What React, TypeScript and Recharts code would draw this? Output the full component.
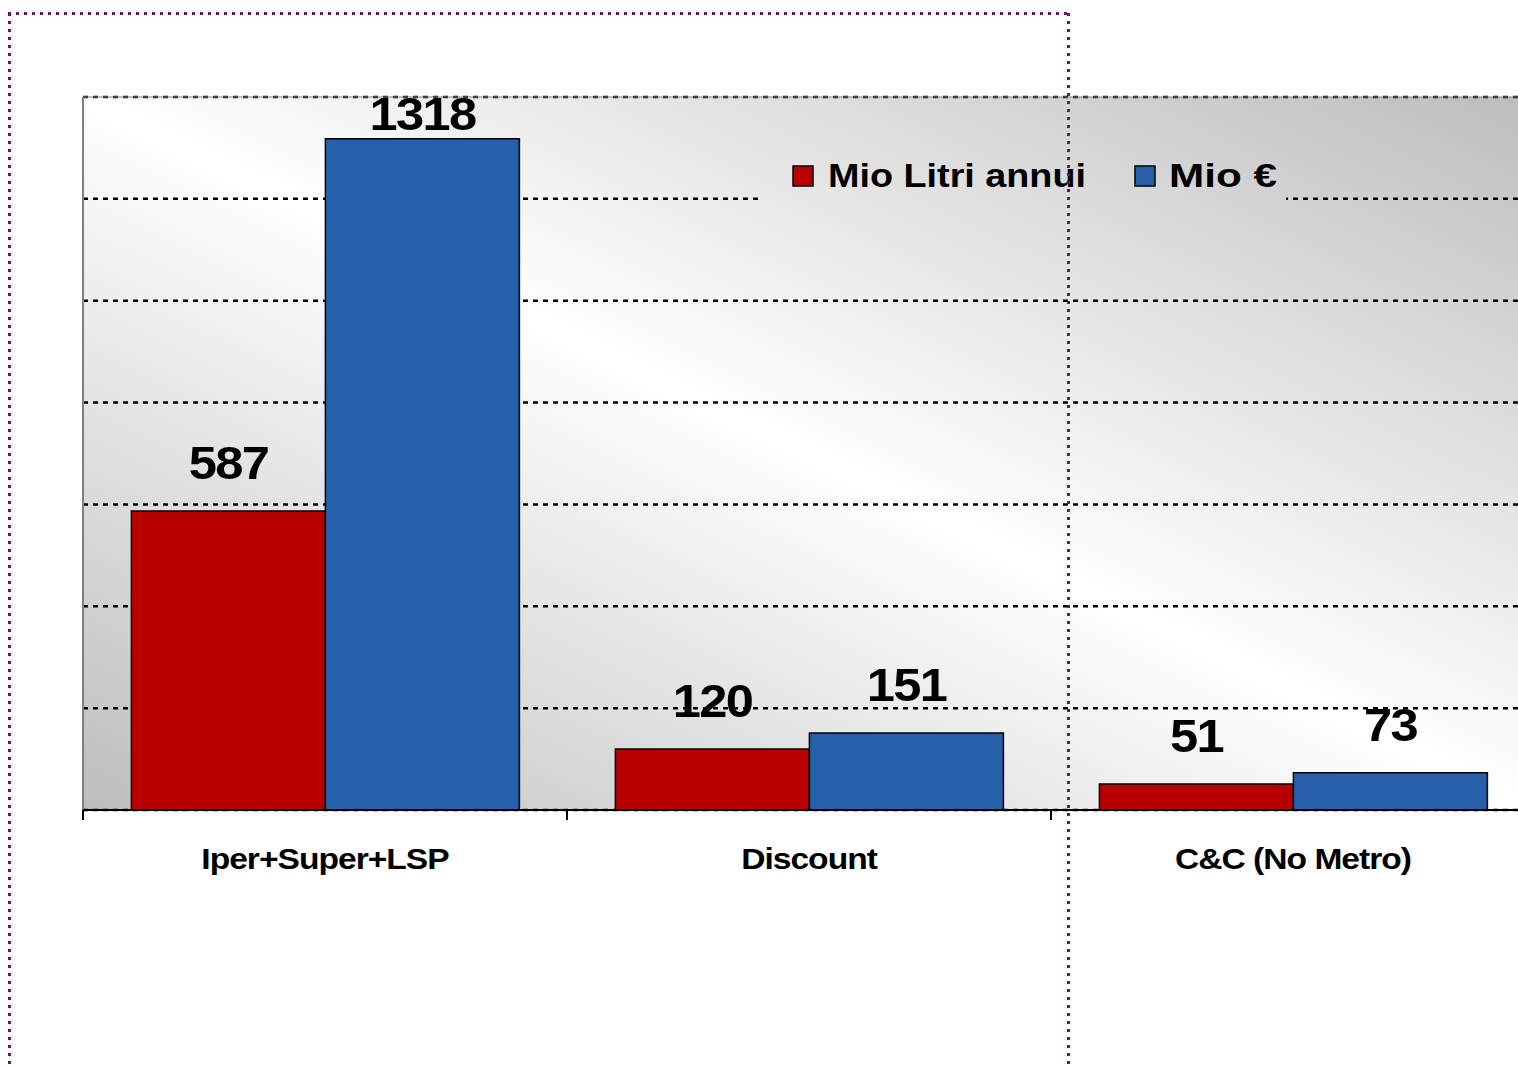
import { BarChart, Bar, XAxis, YAxis, CartesianGrid, Legend, LabelList, ReferenceLine } from 'recharts'

const categories = ['Iper+Super+LSP', 'Discount', 'C&C (No Metro)']
const litri = [587, 120, 51]
const euro = [1318, 151, 73]
const seriesNames = ['Mio Litri annui', 'Mio €']
const yTicks = [0, 200, 400, 600, 800, 1000, 1200, 1400]

const data = categories.map((name, i) => ({ name, litri: litri[i], euro: euro[i] }))

const RED = '#b80000'
const BLUE = '#2660aa'
const FONT = '"Liberation Sans", Arial, Helvetica, sans-serif'

// chart box (wider than the page, the right end is cut off like in the original)
const W = 1560
const H = 1068
const YW = 1 // y axis width
const XH = 1 // x axis height
const M = { top: 97, left: 83 - YW, right: 25, bottom: 258 - XH }
const PL = 83
const PT = 97
const PR = W - M.right
const PB = 810
const BAND = (PR - PL) / categories.length

// diagonal gradient: grey corners bottom-left / top-right, white band along the other diagonal
const gcx = (PL + PR) / 2
const gcy = (PT + PB) / 2
const dlen = Math.hypot(PR - PL, PB - PT)
const ux = (PB - PT) / dlen
const uy = -(PR - PL) / dlen
const half = Math.abs((PL - gcx) * ux + (PB - gcy) * uy)
const G = { x1: gcx - half * ux, y1: gcy - half * uy, x2: gcx + half * ux, y2: gcy + half * uy }

function BgGradient({ id, dx = 0, dy = 0 }: { id: string; dx?: number; dy?: number }) {
  return (
    <linearGradient
      id={id}
      gradientUnits="userSpaceOnUse"
      x1={G.x1 - dx}
      y1={G.y1 - dy}
      x2={G.x2 - dx}
      y2={G.y2 - dy}
    >
      <stop offset="0" stopColor="#bdbdbd" />
      <stop offset="0.5" stopColor="#ffffff" />
      <stop offset="1" stopColor="#bdbdbd" />
    </linearGradient>
  )
}

function ValueLabel(props: any) {
  const { x, y, width, value } = props
  const cx = Number(x) + Number(width) / 2
  // keep the label inside the plot area (like the 1318 one)
  const base = Math.max(Number(y) - 32, PT + 33)
  return (
    <text
      transform={`translate(${cx},${base}) scale(1.1,1)`}
      textAnchor="middle"
      fontFamily={FONT}
      fontWeight="bold"
      fontSize={46}
      letterSpacing={-1.5}
      fill="#000"
    >
      {value}
    </text>
  )
}

// category label + tick mark on the left edge of each category (Excel style)
function CatTick(props: any) {
  const { x, y, payload } = props
  const edge = x - BAND / 2
  return (
    <g>
      <line x1={edge} y1={y} x2={edge} y2={y + 10} stroke="#000" strokeWidth={2} />
      <text
        transform={`translate(${x},869) scale(1.12,1)`}
        textAnchor="middle"
        fontFamily={FONT}
        fontWeight="bold"
        fontSize={30}
        letterSpacing={-0.9}
        fill="#000"
      >
        {payload.value}
      </text>
    </g>
  )
}

const LG = { left: 760, top: 148, width: 530, height: 60 }

function LegendBox(props: any) {
  const payload = props.payload ?? []
  const pos = [
    { sw: 33, tx: 68, tw: 258 },
    { sw: 375, tx: 409, tw: 108 },
  ]
  return (
    <svg width={LG.width} height={LG.height} style={{ display: 'block' }}>
      <defs>
        <BgGradient id="bgLegend" dx={LG.left} dy={LG.top} />
      </defs>
      <rect x={2} y={2} width={524} height={56} fill="url(#bgLegend)" />
      {payload.map((p: any, i: number) => (
        <g key={p.value}>
          <rect x={pos[i].sw} y={18} width={20} height={20} fill={p.color} stroke="#000" strokeWidth={1.5} />
          <text
            x={pos[i].tx}
            y={39}
            textLength={pos[i].tw}
            lengthAdjust="spacingAndGlyphs"
            fontFamily={FONT}
            fontWeight="bold"
            fontSize={33}
            fill="#000"
          >
            {p.value}
          </text>
        </g>
      ))}
    </svg>
  )
}

export default function App() {
  return (
    <div
      style={{
        position: 'absolute',
        left: 0,
        top: 0,
        width: 1518,
        height: 1068,
        overflow: 'hidden',
        background: '#fff',
      }}
    >
      <svg width={0} height={0} style={{ position: 'absolute' }}>
        <defs>
          <BgGradient id="bgPlot" />
        </defs>
      </svg>
      <BarChart width={W} height={H} data={data} margin={M} barCategoryGap="10%" barGap={0}>
        <CartesianGrid
          vertical={false}
          horizontalValues={yTicks}
          stroke="#000"
          strokeWidth={2.5}
          strokeDasharray="5 5"
          fill="url(#bgPlot)"
          fillOpacity={1}
        />
        <ReferenceLine y={1400} stroke="#808080" strokeWidth={1} />
        <YAxis
          domain={[0, 1400]}
          ticks={yTicks}
          interval={0}
          tick={() => <g />}
          tickLine={false}
          axisLine={{ stroke: '#808080', strokeWidth: 2 }}
          width={YW}
        />
        <XAxis
          dataKey="name"
          height={XH}
          tickSize={0}
          tickMargin={0}
          tickLine={false}
          interval={0}
          axisLine={{ stroke: '#000', strokeWidth: 2 }}
          tick={<CatTick />}
        />
        <Legend
          layout="horizontal"
          verticalAlign="middle"
          align="center"
          content={<LegendBox />}
          wrapperStyle={{ position: 'absolute', left: LG.left, top: LG.top, width: LG.width, height: LG.height }}
        />
        <Bar dataKey="litri" name={seriesNames[0]} fill={RED} stroke="#000" strokeWidth={1.5} isAnimationActive={false}>
          <LabelList dataKey="litri" content={<ValueLabel />} />
        </Bar>
        <Bar dataKey="euro" name={seriesNames[1]} fill={BLUE} stroke="#000" strokeWidth={1.5} isAnimationActive={false}>
          <LabelList dataKey="euro" content={<ValueLabel />} />
        </Bar>
      </BarChart>
      <svg
        width={1518}
        height={1068}
        style={{ position: 'absolute', left: 0, top: 0, pointerEvents: 'none', zIndex: 10 }}
      >
        <g stroke="#6f1076" strokeWidth={3} strokeDasharray="3 5" fill="none">
          <line x1={8} y1={13.5} x2={1070} y2={13.5} />
          <line x1={9.5} y1={13} x2={9.5} y2={1068} />
          <line x1={1068.5} y1={13} x2={1068.5} y2={1068} />
        </g>
      </svg>
    </div>
  )
}
